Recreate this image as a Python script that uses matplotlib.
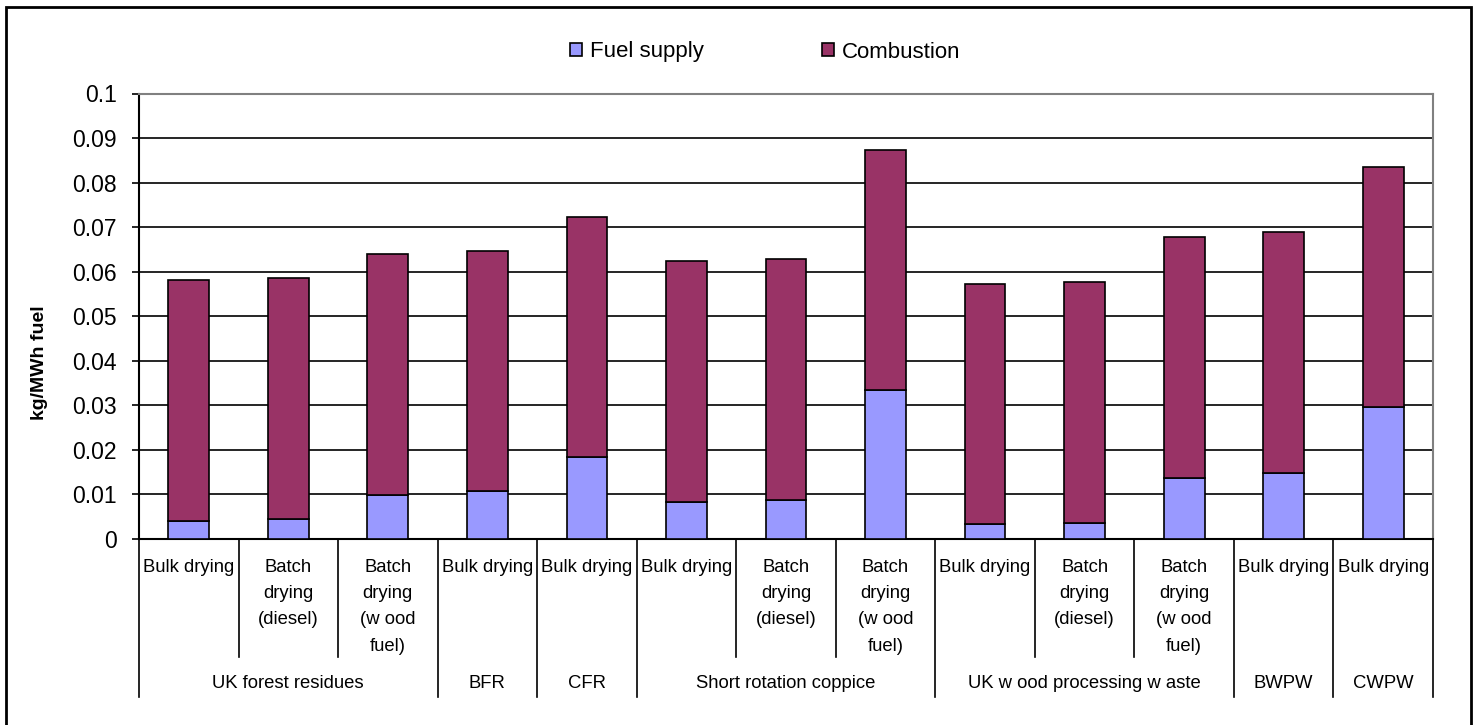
import matplotlib.pyplot as plt
import matplotlib.transforms as mtransforms
from matplotlib.patches import Rectangle

plt.rcParams['font.family'] = ['Liberation Sans', 'DejaVu Sans']

# donnees : emissions par filiere (kg/MWh fuel)
groupes = ["UK forest residues", "BFR", "CFR", "Short rotation coppice",
           "UK w ood processing w aste", "BWPW", "CWPW"]
taille_groupes = [3, 1, 1, 3, 3, 1, 1]
sous_categories = [
    "Bulk drying", "Batch\ndrying\n(diesel)", "Batch\ndrying\n(w ood\nfuel)",
    "Bulk drying",
    "Bulk drying",
    "Bulk drying", "Batch\ndrying\n(diesel)", "Batch\ndrying\n(w ood\nfuel)",
    "Bulk drying", "Batch\ndrying\n(diesel)", "Batch\ndrying\n(w ood\nfuel)",
    "Bulk drying",
    "Bulk drying",
]
fuel_supply = [0.0041, 0.0045, 0.0099, 0.0107, 0.0184, 0.0084, 0.0087,
               0.0335, 0.0034, 0.0037, 0.0137, 0.0149, 0.0296]
combustion = [0.0540, 0.0540, 0.0540, 0.0540, 0.0539, 0.0540, 0.0541,
              0.0539, 0.0539, 0.0540, 0.0540, 0.0539, 0.0540]

W, H = 1477, 725
fig = plt.figure(figsize=(W / 100, H / 100), dpi=100)

# zone du graphique en pixels
x0, x1 = 139, 1433
y_bas, y_haut = 539, 93.5
ax = fig.add_axes([x0 / W, 1 - y_bas / H, (x1 - x0) / W, (y_bas - y_haut) / H])

n = len(fuel_supply)
x = list(range(n))
ax.bar(x, fuel_supply, width=0.41, color='#9999FF', edgecolor='black',
       linewidth=1.2, label='Fuel supply', zorder=3)
ax.bar(x, combustion, width=0.41, bottom=fuel_supply, color='#993366',
       edgecolor='black', linewidth=1.2, label='Combustion', zorder=3)

ax.set_xlim(-0.5, n - 0.5)
ax.set_ylim(0, 0.1)
yt = [i / 100 for i in range(11)]
ax.set_yticks(yt)
ax.set_yticklabels(['0'] + ['%g' % v for v in yt[1:]], fontsize=16.5)
ax.tick_params(axis='y', direction='out', length=5, width=1.2, pad=11)
ax.set_xticks([])
ax.grid(axis='y', color='black', linewidth=1.2, zorder=0)
ax.set_axisbelow(True)

for s in ['left', 'bottom']:
    ax.spines[s].set_color('black')
    ax.spines[s].set_linewidth(1.5)
for s in ['top', 'right']:
    ax.spines[s].set_color('#808080')
    ax.spines[s].set_linewidth(1.5)

ax.set_ylabel('kg/MWh fuel', fontsize=14, fontweight='bold')
ax.yaxis.set_label_coords(40 / W, 0.5, transform=fig.transFigure)
ax.yaxis.label.set_va('center')


def fy(py):
    # position verticale en pixels -> fraction d'axes
    return (y_bas - py) / (y_bas - y_haut)


trans = mtransforms.blended_transform_factory(ax.transData, ax.transAxes)

# separations des categories sous l'axe
frontieres_groupes = [0]
for t in taille_groupes:
    frontieres_groupes.append(frontieres_groupes[-1] + t)
for b in range(n + 1):
    bas = 697 if b in frontieres_groupes else 657
    ax.plot([b - 0.5, b - 0.5], [0, fy(bas)], color='black', lw=1.2,
            transform=trans, clip_on=False)

# etiquettes des sous-categories
for i, lab in enumerate(sous_categories):
    for k, ligne in enumerate(lab.split('\n')):
        ax.text(i, fy(567 + k * 26.5), ligne, transform=trans, ha='center',
                va='center', fontsize=13.3)

# etiquettes des groupes
for g, nom in enumerate(groupes):
    centre = (frontieres_groupes[g] + frontieres_groupes[g + 1]) / 2 - 0.5
    ax.text(centre, fy(684), nom, transform=trans, ha='center', va='center',
            fontsize=13.3)

fig.legend(loc='center', bbox_to_anchor=(765 / W, 1 - 52 / H), ncol=2,
           frameon=False, fontsize=16, handlelength=0.55, handleheight=0.55,
           handletextpad=0.36, columnspacing=5.3)

# cadre exterieur
fig.patches.append(Rectangle((6 / W, -0.01), (1471 - 6) / W, 1.01 - 7 / H,
                             transform=fig.transFigure, fill=False,
                             edgecolor='black', linewidth=2))

fig.savefig('out.png', dpi=100)
